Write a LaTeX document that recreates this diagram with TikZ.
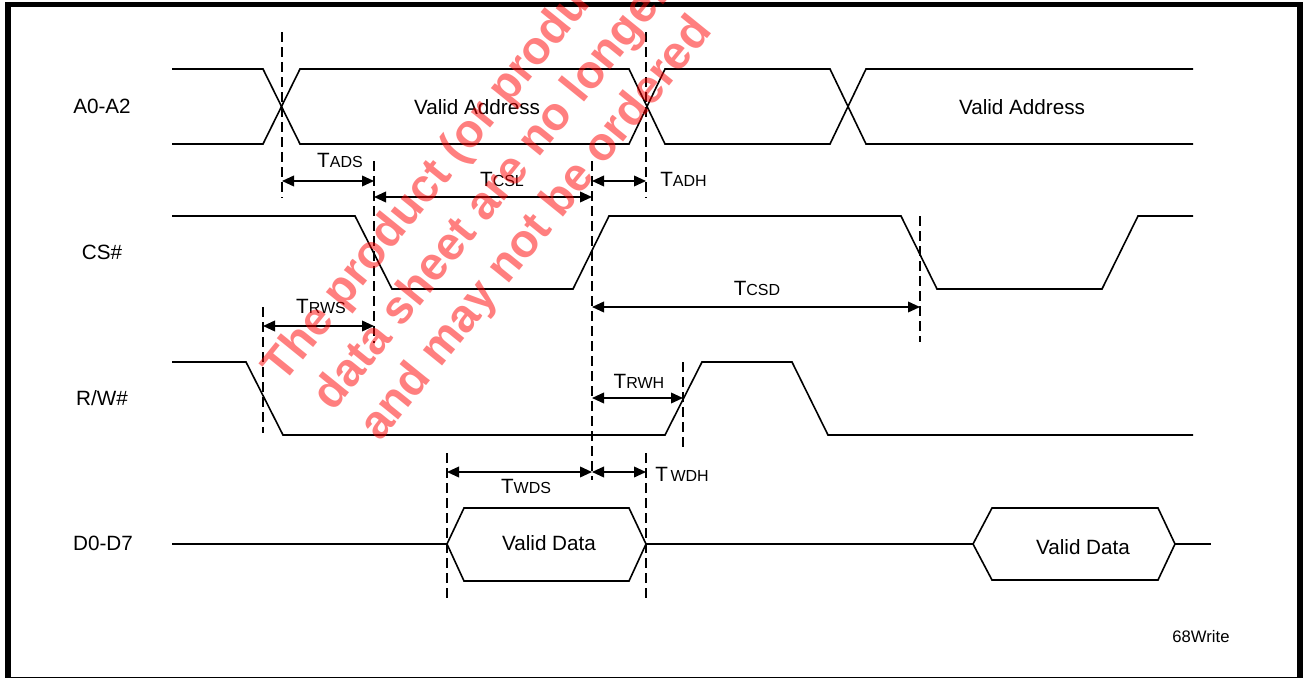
\documentclass[tikz,border=0pt]{standalone}
\usepackage{fontspec}
\setmainfont{Liberation Sans}
\usetikzlibrary{arrows.meta}
\newcommand{\tlab}[1]{T{\fontsize{12}{12}\selectfont #1}}
\begin{document}
\begin{tikzpicture}[x=0.75pt,y=-0.75pt,
  sig/.style={line width=1.2pt,line join=miter},
  guide/.style={line width=1.1pt,dash pattern=on 7.5pt off 3.75pt},
  dim/.style={line width=1.2pt,{Triangle[length=9pt,width=8pt]}-{Triangle[length=9pt,width=8pt]}},
  lbl/.style={font=\fontsize{15.5}{18}\selectfont,inner sep=0pt,anchor=base},
  tlbl/.style={font=\fontsize{15.5}{18}\selectfont,inner sep=0pt,anchor=base},
  small/.style={font=\fontsize{12.5}{14}\selectfont,inner sep=0pt,anchor=base},
  wm/.style={font=\fontsize{35}{40}\selectfont\bfseries,text=red,text opacity=0.5,inner sep=0pt,anchor=base west,rotate=51}]
\useasboundingbox (0,0) rectangle (1303,678);
% frame
\fill[black] (5,2) rectangle (1303,7);
\fill[black] (5,2) rectangle (11,678);
\fill[black] (1297,2) rectangle (1303,678);
\fill[black] (5,676.5) rectangle (1303,678);
% signal names
\node[lbl] (nA) at (102,113) {A0-A2};
\node[lbl] (nCS) at (102,259) {CS\#};
\node[lbl] (nRW) at (102,405) {R/W\#};
\node[lbl] (nD) at (103,550) {D0-D7};
% A0-A2 bus
\draw[sig] (172,69) -- (263,69) -- (300,144) -- (629,144) -- (665,69) -- (830,69) -- (866,144) -- (1193,144);
\draw[sig] (172,144) -- (263,144) -- (300,69) -- (629,69) -- (665,144) -- (830,144) -- (866,69) -- (1193,69);
\node[lbl] (va1) at (477,114) {Valid Address};
\node[lbl] (va2) at (1022,114) {Valid Address};
% CS#
\draw[sig] (172,216) -- (355,216) -- (392,289) -- (573,289) -- (609,216) -- (901,216) -- (937,289) -- (1102,289) -- (1138,216) -- (1193,216);
% R/W#
\draw[sig] (172,362) -- (246,362) -- (283,435) -- (665,435) -- (702,362) -- (792,362) -- (828,435) -- (1193,435);
% D0-D7
\draw[sig] (172,544) -- (447,544);
\draw[sig] (447,544) -- (464,508) -- (629,508) -- (646,544) -- (629,581) -- (464,581) -- cycle;
\draw[sig] (646,544) -- (973,544);
\draw[sig] (973,544) -- (992,508) -- (1158,508) -- (1175,544) -- (1158,580) -- (992,580) -- cycle;
\draw[sig] (1175,544) -- (1211,544);
\node[lbl] (vd1) at (549,550) {Valid Data};
\node[lbl] (vd2) at (1083,554) {Valid Data};
\node[small] (fig) at (1201,642) {68Write};
% guides
\coordinate (g1a) at (282,32);  \coordinate (g1b) at (282,198);
\coordinate (g2a) at (646,32);  \coordinate (g2b) at (646,198);
\coordinate (g3a) at (374,161); \coordinate (g3b) at (374,343);
\coordinate (g4a) at (592,161); \coordinate (g4b) at (592,480);
\coordinate (g5a) at (920,216); \coordinate (g5b) at (920,342);
\coordinate (g6a) at (263,307); \coordinate (g6b) at (263,433);
\coordinate (g7a) at (683,362); \coordinate (g7b) at (683,452);
\coordinate (g8a) at (447,453); \coordinate (g8b) at (447,598);
\coordinate (g9a) at (646,453); \coordinate (g9b) at (646,598);
\foreach \g in {1,...,9} \draw[guide] (g\g a) -- (g\g b);
% dimension arrows
\coordinate (adsL) at (282,181); \coordinate (adsR) at (374,181);
\coordinate (cslL) at (374,197); \coordinate (cslR) at (592,197);
\coordinate (adhL) at (592,181); \coordinate (adhR) at (646,181);
\coordinate (csdL) at (592,307); \coordinate (csdR) at (920,307);
\coordinate (rwsL) at (263,326); \coordinate (rwsR) at (374,326);
\coordinate (rwhL) at (592,398); \coordinate (rwhR) at (683,398);
\coordinate (wdsL) at (447,472); \coordinate (wdsR) at (592,472);
\coordinate (wdhL) at (592,472); \coordinate (wdhR) at (646,472);
\draw[dim] (adsL) -- (adsR);
\draw[dim] (cslL) -- (cslR);
\draw[dim] (adhL) -- (adhR);
\draw[dim] (csdL) -- (csdR);
\draw[dim] (rwsL) -- (rwsR);
\draw[dim] (rwhL) -- (rwhR);
\draw[dim] (wdsL) -- (wdsR);
\draw[dim] (wdhL) -- (wdhR);
\node[tlbl] (tads) at (340,167) {\tlab{ADS}};
\node[tlbl] (tcsl) at (502,186) {\tlab{CSL}};
\node[tlbl,anchor=base west] (tadh) at (660,186) {\tlab{ADH}};
\node[tlbl] (tcsd) at (757,295) {\tlab{CSD}};
\node[tlbl] (trws) at (321,313) {\tlab{RWS}};
\node[tlbl] (trwh) at (639,388) {\tlab{RWH}};
\node[tlbl] (twds) at (526,493) {\tlab{WDS}};
\node[tlbl,anchor=base west] (twdh) at (655,481) {T\hspace{2pt}{\fontsize{12}{12}\selectfont WDH}};
% watermark
\begin{scope}
\clip (0,0) rectangle (1303,678);
\node[wm] (w1) at (283,385) {The product (or product series) of this};
\node[wm] (w2) at (333,413) {data sheet are no longer in production};
\node[wm] (w3) at (380,443) {and may not be ordered};
\end{scope}
\end{tikzpicture}
\end{document}
